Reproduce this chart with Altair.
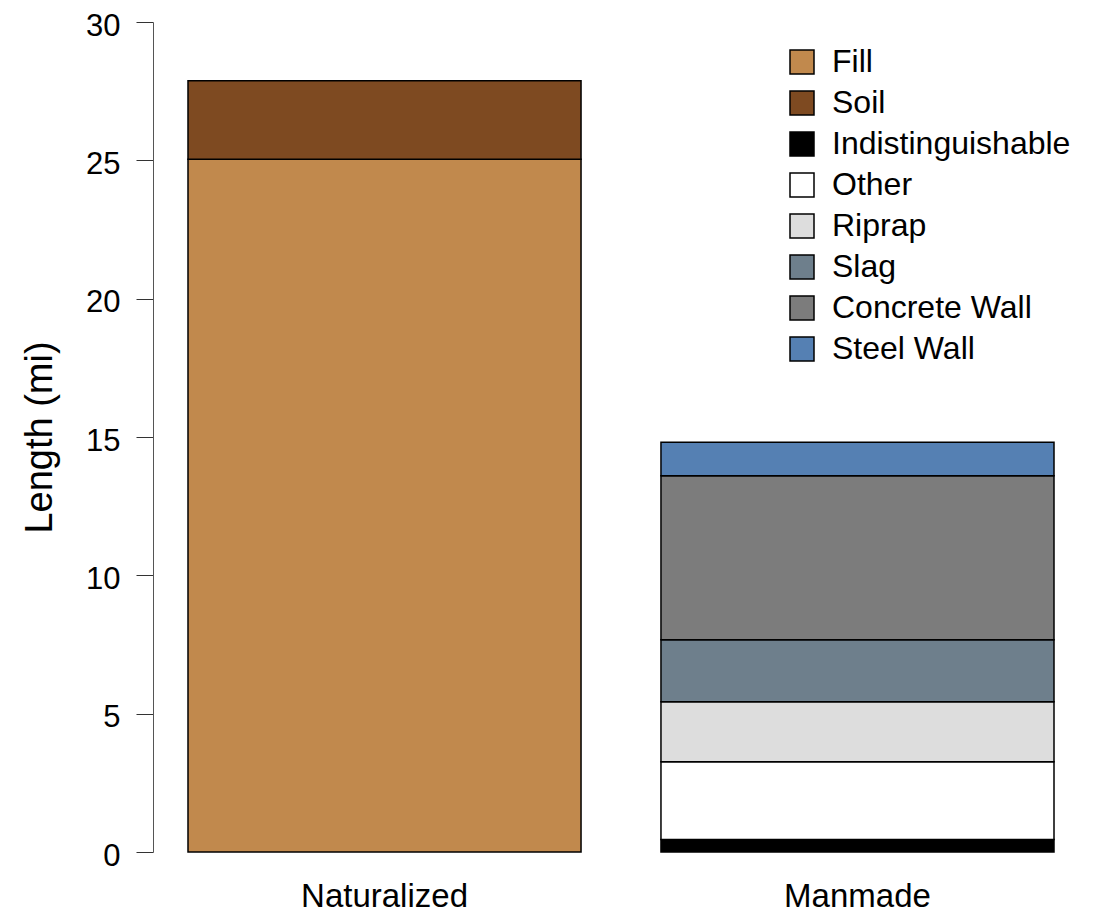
import altair as alt
import pandas as pd

categories = ["Naturalized", "Manmade"]
materials = ["Fill", "Soil", "Indistinguishable", "Other", "Riprap",
             "Slag", "Concrete Wall", "Steel Wall"]
colors = ["#C1894D", "#7E4A21", "#000000", "#FFFFFF", "#DDDDDD",
          "#6E7F8C", "#7C7C7C", "#5580B3"]
naturalized_lengths = [25.04, 2.84, 0, 0, 0, 0, 0, 0]
manmade_lengths = [0, 0, 0.45, 2.81, 2.17, 2.24, 5.93, 1.21]

rows = []
for cat, vals in zip(categories, [naturalized_lengths, manmade_lengths]):
    for i, (m, v) in enumerate(zip(materials, vals)):
        if v > 0:
            rows.append({"group": cat, "material": m, "length": v, "idx": i})
df = pd.DataFrame(rows)

FONT = "Liberation Sans"

chart = alt.Chart(df).mark_bar(stroke="black", strokeWidth=1.5).encode(
    x=alt.X("group:N", sort=categories,
            scale=alt.Scale(paddingInner=0.169, paddingOuter=0.074),
            axis=alt.Axis(title=None, labelAngle=0, ticks=False, tickSize=0,
                          domain=False, labelFontSize=33, labelPadding=28,
                          labelColor="black", labelFont=FONT)),
    y=alt.Y("length:Q", stack="zero",
            scale=alt.Scale(domain=[0, 30], nice=False),
            axis=alt.Axis(title="Length (mi)", values=[0, 5, 10, 15, 20, 25, 30],
                          grid=False, domainColor="#555555", tickColor="#333333",
                          tickSize=17, labelPadding=16, labelFontSize=31,
                          labelOffset=4,
                          labelColor="black", labelFont=FONT,
                          titleFont=FONT, titleFontSize=38,
                          titleFontWeight="normal", titleColor="black",
                          titlePadding=26)),
    color=alt.Color("material:N",
                    scale=alt.Scale(domain=materials, range=colors),
                    legend=alt.Legend(title=None, orient="none", legendX=633,
                                      legendY=24, padding=0,
                                      symbolType="square", symbolSize=576,
                                      symbolStrokeColor="black",
                                      symbolStrokeWidth=1.5,
                                      symbolOpacity=1,
                                      labelFontSize=32, labelFont=FONT,
                                      labelColor="black", labelOffset=14,
                                      labelLimit=400,
                                      rowPadding=9)),
    order=alt.Order("idx:Q", sort="ascending"),
).properties(
    width=936, height=830,
    background="white",
    autosize=alt.AutoSizeParams(type="none"),
    padding={"left": 145, "top": 14, "right": 0, "bottom": 62},
).configure_view(stroke=None)

chart.save("out.html", embed_options={"renderer": "svg", "actions": False})
